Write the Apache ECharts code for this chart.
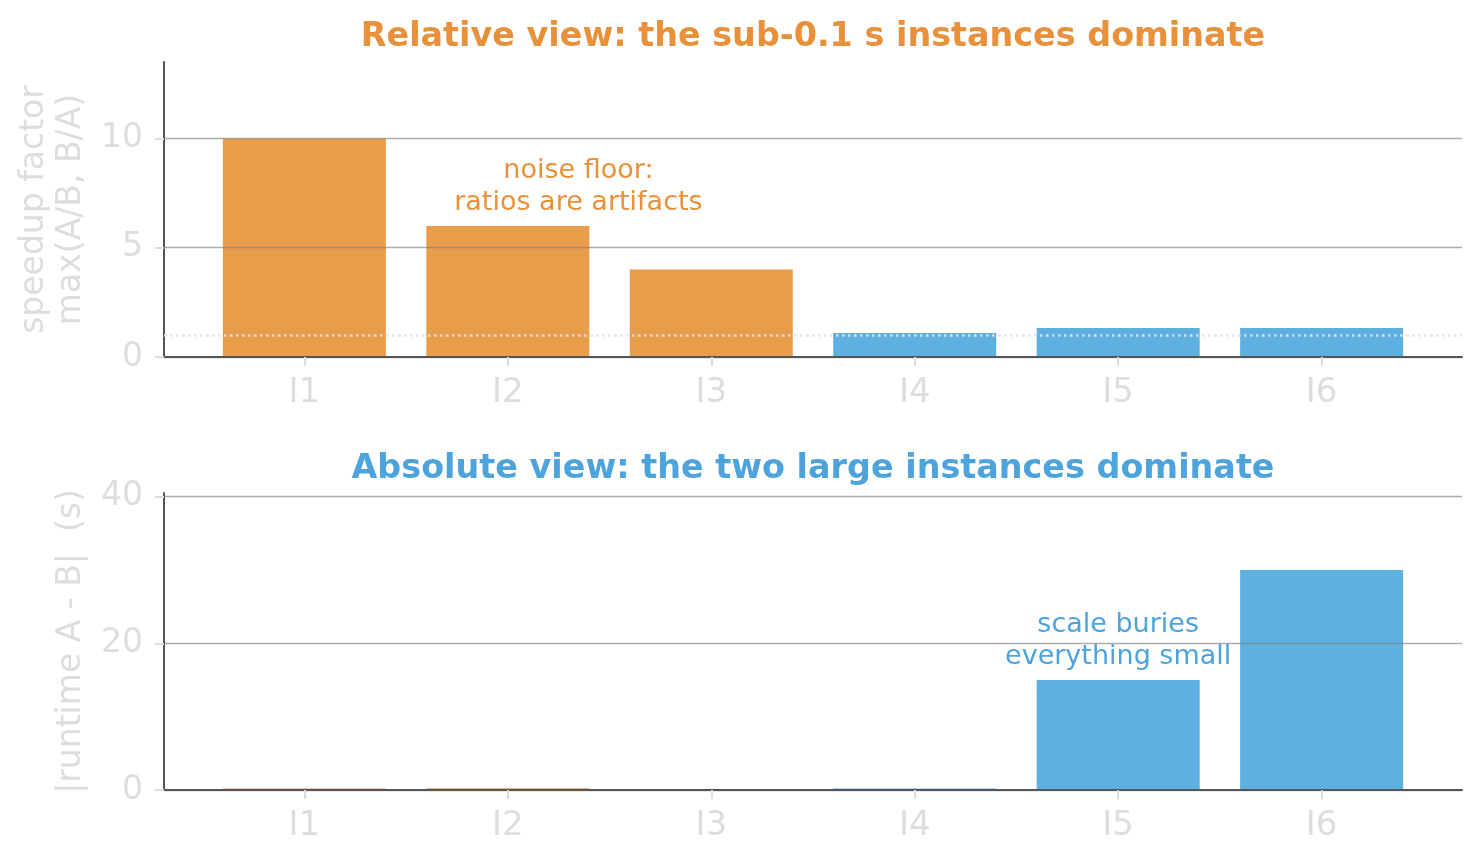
<!DOCTYPE html>
<html>
<head>
<meta charset="utf-8">
<script src="https://cdn.jsdelivr.net/npm/echarts@6/dist/echarts.min.js"></script>
<style>
  html, body { margin: 0; padding: 0; background: #fff; }
  #main { width: 1481px; height: 862px; }
</style>
</head>
<body>
<div id="main"></div>
<script>
// Data
const instances = ['I1', 'I2', 'I3', 'I4', 'I5', 'I6'];
const group = ['small', 'small', 'small', 'large', 'large', 'large'];
const speedup = [10, 6, 4, 1.1, 1.33, 1.33];
const absDiff = [0.2, 0.25, 0.03, 0.22, 15, 30];
const relTicks = [0, 5, 10];
const absTicks = [0, 20, 40];

const orange = '#e89d4b';
const blue = '#5eb0e0';
const orangeText = '#e8913a';
const blueText = '#4da3dc';
const faint = '#dddddd';
const font = 'DejaVu Sans';

function barData(values) {
  return values.map(function (v, i) {
    return {
      value: [i, v],
      itemStyle: { color: group[i] === 'small' ? orange : blue }
    };
  });
}

var chart = echarts.init(document.getElementById('main'));

function xAxisFor(gridIndex) {
  return {
    type: 'value',
    gridIndex: gridIndex,
    min: -0.69,
    max: 5.69,
    z: 3,
    axisLine: { show: true, onZero: false, lineStyle: { color: '#555', width: 2 } },
    axisTick: { show: true, customValues: [0, 1, 2, 3, 4, 5], length: 9, lineStyle: { color: faint, width: 2 } },
    axisLabel: {
      customValues: [0, 1, 2, 3, 4, 5],
      formatter: function (v) { return instances[v]; },
      color: faint, fontSize: 34, fontFamily: font, margin: 19
    },
    splitLine: { show: false }
  };
}

function yAxisFor(gridIndex, max, interval, ticks, name, gap) {
  return {
    type: 'value',
    gridIndex: gridIndex,
    min: 0,
    max: max,
    interval: interval,
    z: 3,
    name: name,
    nameLocation: 'middle',
    nameGap: gap,
    nameTextStyle: { color: faint, fontSize: 33, fontFamily: font, lineHeight: 37 },
    axisLine: { show: true, onZero: false, lineStyle: { color: '#555', width: 2 } },
    axisTick: { show: true, customValues: ticks, length: 9, lineStyle: { color: faint, width: 2 } },
    axisLabel: { customValues: ticks, color: faint, fontSize: 33, fontFamily: font, margin: 21 },
    splitLine: { show: true, lineStyle: { color: 'rgba(128,128,128,0.65)', width: 1.3 } }
  };
}

option = {
  backgroundColor: '#fff',
  animation: false,
  title: [
    {
      text: 'Relative view: the sub-0.1 s instances dominate',
      left: 808, top: 16, textAlign: 'center',
      textStyle: { color: orangeText, fontSize: 33.4, fontWeight: 'bold', fontFamily: font }
    },
    {
      text: 'Absolute view: the two large instances dominate',
      left: 808, top: 448, textAlign: 'center',
      textStyle: { color: blueText, fontSize: 33.4, fontWeight: 'bold', fontFamily: font }
    }
  ],
  grid: [
    { left: 164, right: 19, top: 62, height: 295 },
    { left: 164, right: 19, top: 493, height: 297 }
  ],
  xAxis: [xAxisFor(0), xAxisFor(1)],
  yAxis: [
    yAxisFor(0, 13.5, 5, relTicks, 'speedup factor\nmax(A/B, B/A)', 68),
    yAxisFor(1, 40.5, 20, absTicks, '|runtime A - B|  (s)', 66)
  ],
  series: [
    {
      name: 'speedup',
      type: 'bar',
      xAxisIndex: 0,
      yAxisIndex: 0,
      barWidth: 163,
      data: barData(speedup),
      markLine: {
        silent: true,
        symbol: 'none',
        z: 5,
        label: { show: false },
        lineStyle: { color: 'rgba(226,226,226,0.9)', width: 2.5, type: [2.5, 3.5] },
        data: [{ yAxis: 1 }]
      },
      markPoint: {
        silent: true,
        symbol: 'circle',
        symbolSize: 0,
        label: {
          show: true, position: 'inside',
          formatter: 'noise floor:\nratios are artifacts',
          color: orangeText, fontSize: 27, fontFamily: font, lineHeight: 32
        },
        data: [{ coord: [1.347, 7.8] }]
      }
    },
    {
      name: 'abs',
      type: 'bar',
      xAxisIndex: 1,
      yAxisIndex: 1,
      barWidth: 163,
      data: barData(absDiff),
      markPoint: {
        silent: true,
        symbol: 'circle',
        symbolSize: 0,
        label: {
          show: true, position: 'inside',
          formatter: 'scale buries\neverything small',
          color: blueText, fontSize: 27, fontFamily: font, lineHeight: 32
        },
        data: [{ coord: [4, 20.3] }]
      }
    }
  ]
};

chart.setOption(option);
</script>
</body>
</html>
